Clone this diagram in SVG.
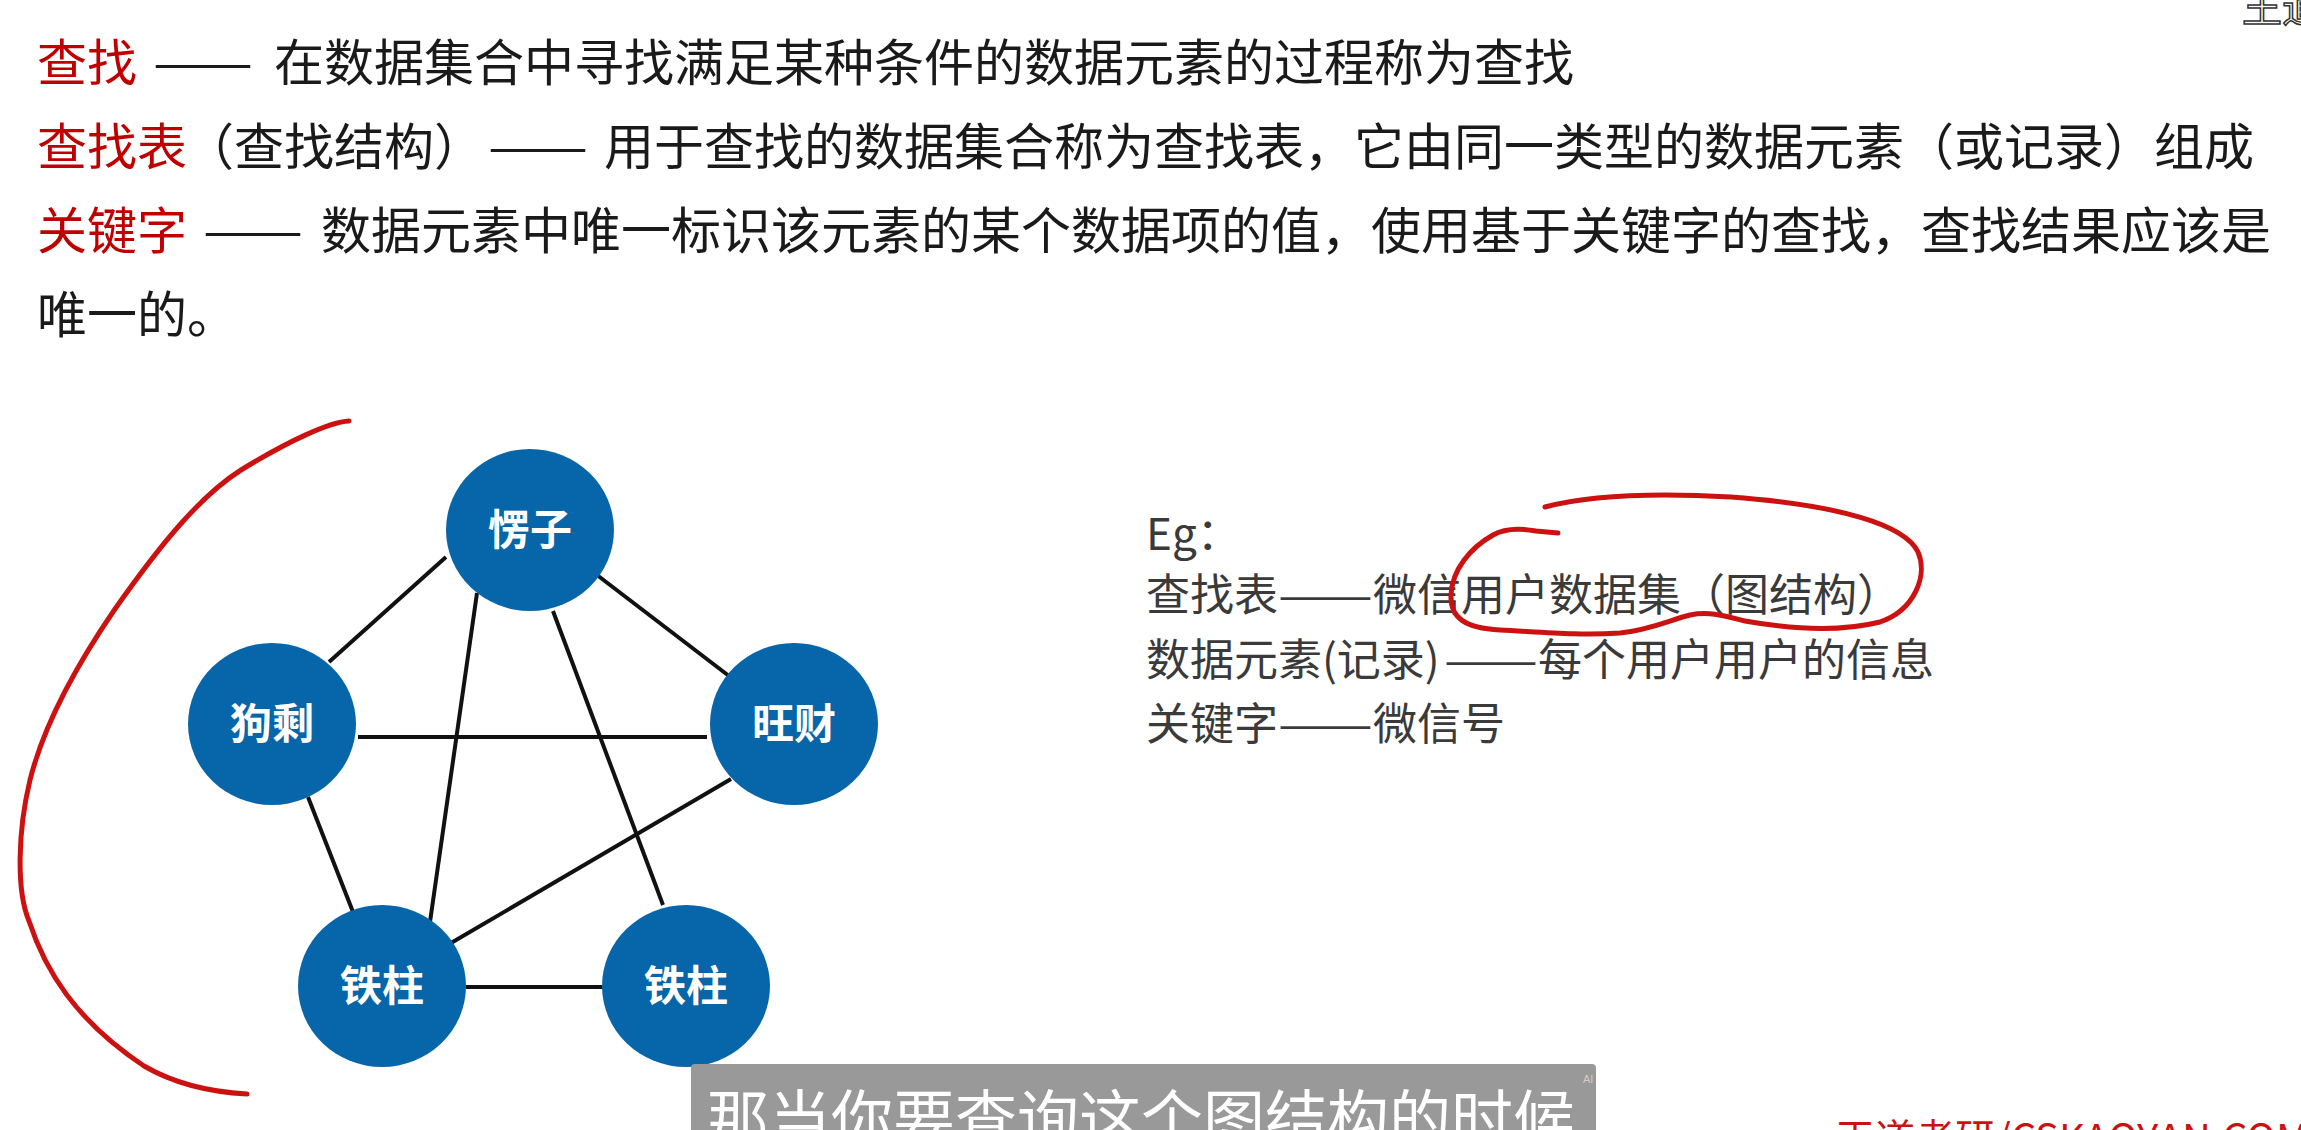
<svg xmlns="http://www.w3.org/2000/svg" width="2301" height="1130" viewBox="0 0 2301 1130">
  <style>
    .cn { font-family: "Noto Sans CJK SC", "Noto Sans", sans-serif; }
    .body { font-size: 50px; fill: #1a1a1a; }
    .term { font-size: 50px; fill: #c00000; }
    .eg { font-size: 44px; fill: #3a3a3a; }
    .node ellipse { fill: #0765aa; }
    .node text { font-size: 42px; font-weight: 700; fill: #ffffff; text-anchor: middle; }
    .edge { stroke: #111111; stroke-width: 4; fill: none; }
    .ink { stroke: #cc1111; stroke-width: 5; fill: none; stroke-linecap: round; stroke-linejoin: round; }
  </style>

  <rect width="2301" height="1130" fill="#ffffff"/>

  <!-- definitions -->
  <g id="definitions" class="cn">
    <text class="term" x="37" y="81">查找</text>
    <text class="body" x="153" y="81" textLength="100" lengthAdjust="spacingAndGlyphs">——</text>
    <text class="body" x="274" y="81">在数据集合中寻找满足某种条件的数据元素的过程称为查找</text>

    <text class="term" x="37" y="165">查找表</text>
    <text class="body" x="184" y="165">（查找结构）</text>
    <text class="body" x="488" y="165" textLength="100" lengthAdjust="spacingAndGlyphs">——</text>
    <text class="body" x="604" y="165">用于查找的数据集合称为查找表，它由同一类型的数据元素（或记录）组成</text>

    <text class="term" x="37" y="249">关键字</text>
    <text class="body" x="203" y="249" textLength="100" lengthAdjust="spacingAndGlyphs">——</text>
    <text class="body" x="321" y="249">数据元素中唯一标识该元素的某个数据项的值，使用基于关键字的查找，查找结果应该是</text>

    <text class="body" x="37" y="333">唯一的。</text>
  </g>

  <!-- example -->
  <g id="example" class="cn eg">
    <text x="1146" y="550">Eg：</text>

    <text x="1146" y="611">查找表</text>
    <text x="1278" y="611" textLength="95" lengthAdjust="spacingAndGlyphs">——</text>
    <text x="1373" y="611">微信用户数据集（图结构）</text>

    <text x="1146" y="676">数据元素(记录)</text>
    <text x="1444" y="676" textLength="94" lengthAdjust="spacingAndGlyphs">——</text>
    <text x="1538" y="676">每个用户用户的信息</text>

    <text x="1146" y="740">关键字</text>
    <text x="1278" y="740" textLength="95" lengthAdjust="spacingAndGlyphs">——</text>
    <text x="1373" y="740">微信号</text>
  </g>

  <!-- graph edges -->
  <g id="edges">
    <line class="edge" x1="446" y1="557" x2="329" y2="662"/>
    <line class="edge" x1="597" y1="575" x2="729" y2="676"/>
    <line class="edge" x1="477" y1="593" x2="430" y2="922"/>
    <line class="edge" x1="553" y1="611" x2="663" y2="905"/>
    <line class="edge" x1="358" y1="737" x2="707" y2="737"/>
    <line class="edge" x1="308" y1="797" x2="353" y2="912"/>
    <line class="edge" x1="731" y1="779" x2="451" y2="943"/>
    <line class="edge" x1="466" y1="987" x2="604" y2="987"/>
  </g>

  <!-- graph nodes -->
  <g id="node-lengzi" class="node cn">
    <ellipse cx="530" cy="530" rx="84" ry="81"/>
    <text x="530" y="545">愣子</text>
  </g>
  <g id="node-gousheng" class="node cn">
    <ellipse cx="272" cy="724" rx="84" ry="81"/>
    <text x="272" y="739">狗剩</text>
  </g>
  <g id="node-wangcai" class="node cn">
    <ellipse cx="794" cy="724" rx="84" ry="81"/>
    <text x="794" y="739">旺财</text>
  </g>
  <g id="node-tiezhu-1" class="node cn">
    <ellipse cx="382" cy="986" rx="84" ry="81"/>
    <text x="382" y="1001">铁柱</text>
  </g>
  <g id="node-tiezhu-2" class="node cn">
    <ellipse cx="686" cy="986" rx="84" ry="81"/>
    <text x="686" y="1001">铁柱</text>
  </g>

  <!-- hand-drawn marks -->
  <g id="marks">
    <path class="ink" d="M349,421 C330,422 290,440 241,470 C200,496 160,545 115,609 C80,660 45,720 30,780 C18,830 16,890 29,921 C45,970 75,1020 144,1066 C175,1084 210,1092 247,1094"/>
    <path class="ink" d="M1558,533 L1536,531 C1520,528 1505,528 1493,535 C1470,548 1452,570 1451,595 C1450,618 1465,628 1500,630 C1540,632 1580,636 1620,633 C1650,630 1670,620 1690,615 C1710,611 1725,616 1745,621 C1790,629 1840,632 1880,622 C1915,610 1928,575 1918,552 C1905,525 1840,505 1731,497 C1660,493 1590,495 1545,507"/>
  </g>

  <!-- caption bar -->
  <g id="caption" class="cn">
    <rect x="691" y="1064" width="905" height="80" rx="4" fill="#999999"/>
    <text x="707" y="1142" font-size="62" fill="#ffffff">那当你要查询这个图结构的时候</text>
    <text x="1583" y="1083" font-size="11" fill="#cfcfcf" font-family="Liberation Sans, sans-serif">AI</text>
  </g>

  <!-- corner marks -->
  <g id="brand" class="cn">
    <text x="1835" y="1153" font-size="40" fill="#cc1111">王道考研/CSKAOYAN.COM</text>
    <text x="2242" y="22" font-size="40" fill="#ffffff" stroke="#333333" stroke-width="1.5">王道</text>
  </g>
</svg>
